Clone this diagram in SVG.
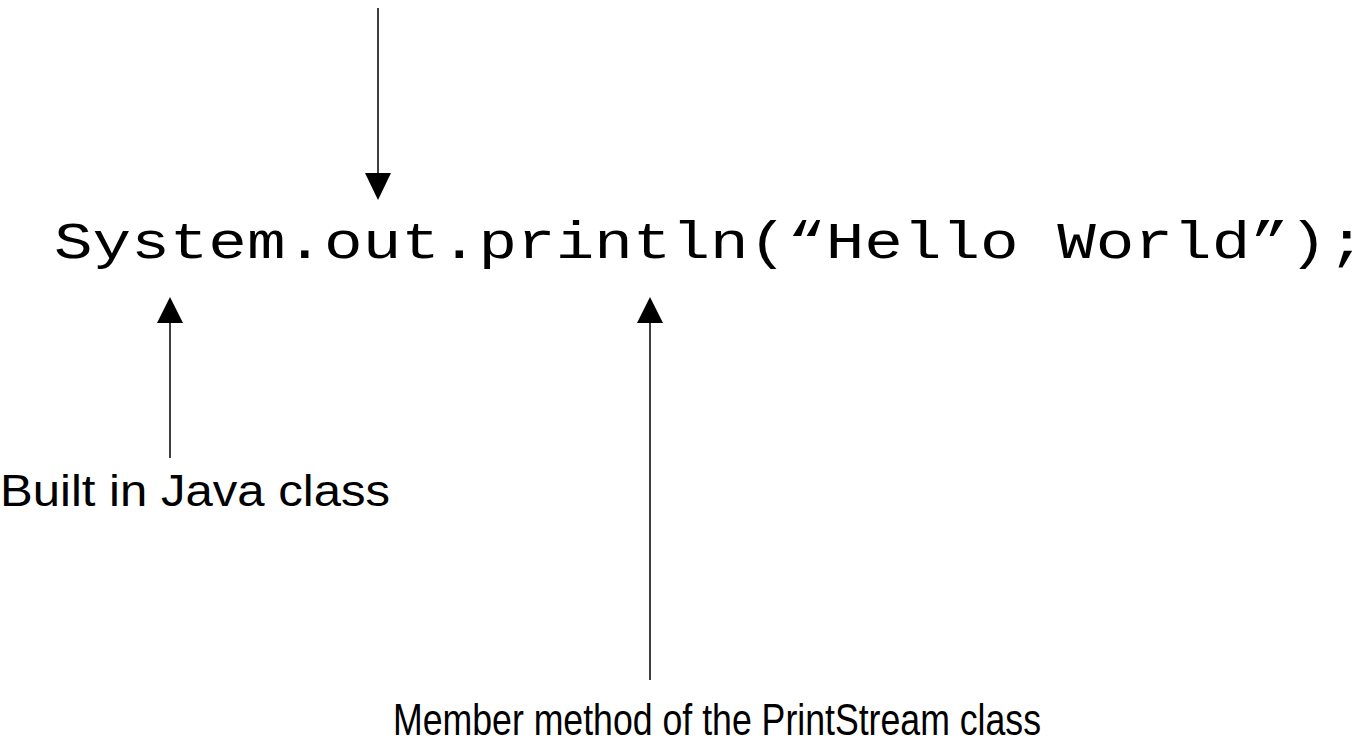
<svg xmlns="http://www.w3.org/2000/svg" width="1370" height="742" viewBox="0 0 1370 742">
  <style>
    .code { font-family: "Courier New", Courier, "Liberation Mono", monospace; font-size: 52px; fill: #000; }
    .label { font-family: "Liberation Sans", Arial, sans-serif; font-size: 44px; fill: #000; }
    .conn { stroke: #000; stroke-width: 1.5; fill: none; }
    .head { fill: #000; }
  </style>
  <rect width="1370" height="742" fill="#fff"/>

  <g id="code-line">
    <text class="code" x="54" y="258" textLength="1312" lengthAdjust="spacingAndGlyphs">System.out.println(“Hello World”);</text>
  </g>

  <g id="label-class">
    <text class="label" x="0" y="506" textLength="390" lengthAdjust="spacingAndGlyphs">Built in Java class</text>
  </g>

  <g id="label-method">
    <text class="label" x="393" y="735" textLength="648" lengthAdjust="spacingAndGlyphs">Member method of the PrintStream class</text>
  </g>

  <g id="connectors">
    <!-- arrow down onto "out" -->
    <line class="conn" x1="378" y1="8" x2="378" y2="176"/>
    <polygon class="head" points="365,173 391,173 378,200"/>
    <!-- arrow up to "System" -->
    <line class="conn" x1="170" y1="458" x2="170" y2="320"/>
    <polygon class="head" points="157,323 183,323 170,297"/>
    <!-- arrow up to "println" -->
    <line class="conn" x1="650" y1="680" x2="650" y2="320"/>
    <polygon class="head" points="637,323 663,323 650,297"/>
  </g>
</svg>
